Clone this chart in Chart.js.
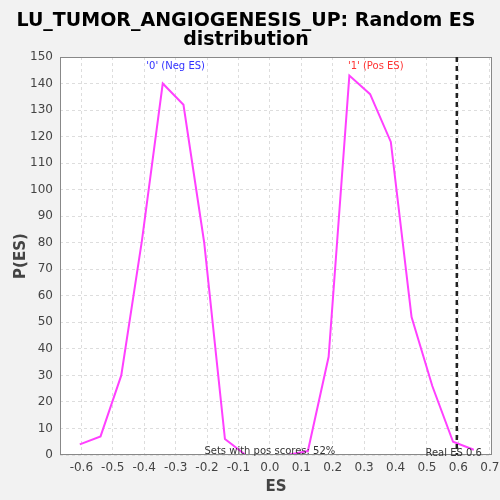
<!DOCTYPE html>
<html>
<head>
<meta charset="utf-8">
<script src="https://cdn.jsdelivr.net/npm/chart.js@4"></script>
<style>
  html, body { margin: 0; padding: 0; background: #f2f2f2; }
  #wrap { width: 500px; height: 500px; position: relative; }
</style>
</head>
<body>
<div id="wrap"><canvas id="c" width="500" height="500"></canvas></div>
<script>
// values
const esValues = [-0.605, -0.539, -0.473, -0.407, -0.341, -0.275, -0.209, -0.143, -0.077, -0.011,
                  0.055, 0.121, 0.187, 0.253, 0.319, 0.385, 0.451, 0.517, 0.583, 0.649];
const pValues = [4, 7, 30, 81, 140, 132, 80, 6, 0, 0,
                 0, 1.5, 37, 143, 136, 118, 52, 26, 5, 2];
const xTicks = [-0.6, -0.5, -0.4, -0.3, -0.2, -0.1, 0.0, 0.1, 0.2, 0.3, 0.4, 0.5, 0.6, 0.7];
const realEs = 0.595;
const titleLines = ['LU_TUMOR_ANGIOGENESIS_UP: Random ES', 'distribution'];

const points = esValues.map((x, i) => ({ x: x, y: pValues[i] }));

const extras = {
    id: 'extras',
    beforeDraw: function (chart) {
        const a = chart.chartArea;
        const ctx = chart.ctx;
        ctx.save();
        ctx.fillStyle = '#ffffff';
        ctx.fillRect(a.left, a.top, a.right - a.left, a.bottom - a.top);
        ctx.restore();
    },
    afterDatasetsDraw: function (chart) {
        const ctx = chart.ctx;
        const xs = chart.scales.x;
        const ys = chart.scales.y;
        const a = chart.chartArea;
        ctx.save();
        // plot frame
        ctx.strokeStyle = '#888';
        ctx.lineWidth = 1;
        ctx.strokeRect(a.left + 0.5, a.top + 0.5, a.right - a.left - 1, a.bottom - a.top - 1);
        // real ES marker
        const rx = xs.getPixelForValue(realEs);
        ctx.strokeStyle = '#222';
        ctx.lineWidth = 2.5;
        ctx.setLineDash([5, 4]);
        ctx.beginPath();
        ctx.moveTo(rx, a.top);
        ctx.lineTo(rx, a.bottom);
        ctx.stroke();
        ctx.setLineDash([]);

        ctx.font = '10px "DejaVu Sans"';
        ctx.textAlign = 'center';
        ctx.textBaseline = 'middle';
        ctx.fillStyle = '#3333ff';
        ctx.fillText("'0' (Neg ES)", xs.getPixelForValue(-0.3), ys.getPixelForValue(146.5));
        ctx.fillStyle = '#ff3333';
        ctx.fillText("'1' (Pos ES)", xs.getPixelForValue(0.337), ys.getPixelForValue(146.5));
        ctx.fillStyle = '#333';
        ctx.fillText('Sets with pos scores: 52%', xs.getPixelForValue(0.0), ys.getPixelForValue(1.5));
        ctx.fillText('Real ES 0.6', xs.getPixelForValue(0.585), ys.getPixelForValue(0.6));
        ctx.restore();
    }
};

new Chart(document.getElementById('c'), {
    type: 'scatter',
    data: {
        datasets: [{
            data: points,
            showLine: true,
            borderColor: '#ff40ff',
            borderWidth: 2,
            pointRadius: 0,
            tension: 0
        }]
    },
    options: {
        responsive: false,
        animation: false,
        layout: { padding: { left: 0, right: 8, top: 0, bottom: 0 } },
        plugins: {
            legend: { display: false },
            tooltip: { enabled: false },
            title: {
                display: true,
                text: titleLines,
                color: '#000',
                font: { family: '"DejaVu Sans"', size: 19, weight: 'bold', lineHeight: 1.0 },
                padding: { top: 12, bottom: 7 }
            }
        },
        scales: {
            x: {
                type: 'linear',
                min: -0.668,
                max: 0.707,
                afterBuildTicks: function (s) { s.ticks = xTicks.map(v => ({ value: v })); },
                afterFit: function (s) { s.height = 45; s.paddingRight = 0; s.paddingLeft = 0; },
                ticks: {
                    color: '#444',
                    font: { family: '"DejaVu Sans"', size: 12 },
                    padding: 6,
                    maxRotation: 0,
                    callback: v => v.toFixed(1)
                },
                grid: { color: '#dddddd', drawTicks: false },
                border: { display: false, dash: [3, 3] },
                title: {
                    display: true, text: 'ES', color: '#444',
                    font: { family: '"DejaVu Sans"', size: 15, weight: 'bold' },
                    padding: { top: 0, bottom: 4 }
                }
            },
            y: {
                min: 0,
                max: 150,
                afterFit: function (s) { s.width = 60; },
                ticks: {
                    stepSize: 10,
                    color: '#444',
                    font: { family: '"DejaVu Sans"', size: 12 },
                    padding: 7
                },
                grid: { color: '#dddddd', drawTicks: false },
                border: { display: false, dash: [3, 3] },
                title: {
                    display: true, text: 'P(ES)', color: '#444',
                    font: { family: '"DejaVu Sans"', size: 15, weight: 'bold' },
                    padding: { top: 12, bottom: 0 }
                }
            }
        }
    },
    plugins: [extras]
});
</script>
</body>
</html>
